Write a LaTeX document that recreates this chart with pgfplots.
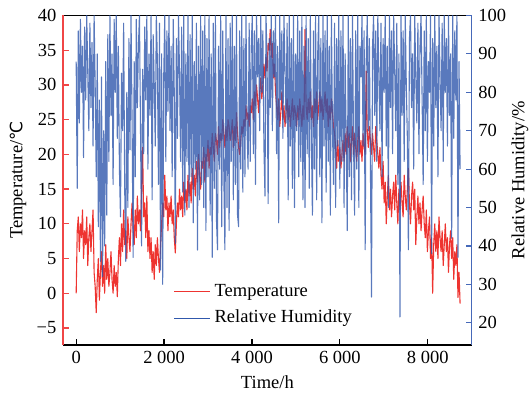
\documentclass[border=0pt]{standalone}
\usepackage{pgfplots}
\pgfplotsset{compat=1.18}
\usepackage{pgfplotstable}
\usepackage{fontspec}
\setmainfont{Liberation Serif}
\newfontfamily\dejavu{DejaVu Sans}
\definecolor{tred}{RGB}{238,52,48}
\definecolor{hblue}{RGB}{48,88,172}
\definecolor{spred}{RGB}{240,70,70}
\definecolor{spblue}{RGB}{70,105,185}

\pgfplotstableread[row sep=\\]{
T\\
0\\ 9\\ 11\\ 6\\ 10\\ 8\\ 12\\ 5\\ 9\\ 7\\
11\\ 4\\ 8\\ 10\\ 6\\ 9\\ 12\\ 3\\ 1\\ -2.8\\
2\\ 5\\ -1\\ 3\\ 6\\ 1\\ 4\\ 0\\ 7\\ 2\\
5\\ 1\\ 3\\ 6\\ 2\\ 0\\ 4\\ 1\\ 3\\ -0.5\\
5\\ 8\\ 4\\ 10\\ 6\\ 12\\ 7\\ 9\\ 5\\ 11\\
8\\ 6\\ 10\\ 13\\ 9\\ 7\\ 12\\ 8\\ 14\\ 10\\
12\\ 9\\ 15\\ 21\\ 11\\ 13\\ 8\\ 14\\ 6\\ 9\\
5\\ 8\\ 3\\ 6\\ 2\\ 7\\ 4\\ 8\\ 5\\ 3\\
7\\ 10\\ 13\\ 11\\ 17\\ 12\\ 14\\ 9\\ 13\\ 11\\
14\\ 10\\ 12\\ 8\\ 5.8\\ 10\\ 13\\ 11\\ 15\\ 12\\
14\\ 11\\ 16\\ 13\\ 15\\ 12\\ 17\\ 14\\ 16\\ 13\\
18\\ 15\\ 17\\ 14\\ 19\\ 16\\ 20\\ 17\\ 15\\ 19\\
18\\ 21\\ 16\\ 20\\ 19\\ 22\\ 18\\ 21\\ 20\\ 23\\
21\\ 19\\ 23\\ 22\\ 20\\ 24\\ 21\\ 23\\ 22\\ 25\\
23\\ 21\\ 24\\ 22\\ 25\\ 24\\ 22\\ 23\\ 25\\ 21\\
24\\ 22\\ 26\\ 23\\ 21\\ 20\\ 22\\ 24\\ 23\\ 25\\
24\\ 27\\ 25\\ 26\\ 24\\ 27\\ 26\\ 28\\ 25\\ 29\\
27\\ 30\\ 28\\ 26\\ 29\\ 31\\ 28\\ 30\\ 33\\ 31\\
34\\ 32\\ 36\\ 35\\ 38\\ 34\\ 36\\ 31\\ 33\\ 29\\
27\\ 25\\ 28\\ 24\\ 26\\ 29\\ 25\\ 27\\ 24\\ 26\\
28\\ 25\\ 27\\ 24\\ 26\\ 28\\ 25\\ 27\\ 26\\ 24\\
27\\ 25\\ 28\\ 26\\ 24\\ 27\\ 25\\ 38\\ 27\\ 25\\
28\\ 26\\ 29\\ 25\\ 27\\ 24\\ 28\\ 26\\ 29\\ 25\\
27\\ 29\\ 26\\ 28\\ 25\\ 27\\ 29\\ 26\\ 28\\ 24\\
27\\ 25\\ 28\\ 26\\ 24\\ 23\\ 21\\ 18\\ 22\\ 19\\
21\\ 18\\ 20\\ 22\\ 19\\ 23\\ 20\\ 24\\ 21\\ 23\\
19\\ 22\\ 24\\ 20\\ 23\\ 21\\ 19\\ 22\\ 24\\ 20\\
22\\ 19\\ 23\\ 21\\ 20\\ 32\\ 23\\ 21\\ 24\\ 22\\
20\\ 23\\ 21\\ 19\\ 24\\ 22\\ 20\\ 18\\ 21\\ 17\\
15\\ 19\\ 13\\ 16\\ 10\\ 14\\ 17\\ 12\\ 15\\ 11\\
14\\ 16\\ 12\\ 17\\ 13\\ 10\\ 15\\ 12\\ 16\\ 13\\
11\\ 17\\ 14\\ 12\\ 15\\ 18\\ 13\\ 10\\ 14\\ 16\\
12\\ 15\\ 7\\ 11\\ 14\\ 10\\ 13\\ 9\\ 12\\ 14\\
10\\ 8\\ 12\\ 6\\ 9\\ 11\\ 5\\ 8\\ 0\\ 7\\
10\\ 6\\ 9\\ 5\\ 11\\ 8\\ 6\\ 9\\ 4\\ 7\\
10\\ 6\\ 8\\ 3\\ 7\\ 9\\ 5\\ 8\\ 2\\ 6\\
4\\ 7\\ -0.6\\ 3\\ -1.5\\
}\temptable

\pgfplotstableread[row sep=\\]{
H\\
88\\ 55\\ 96\\ 72\\ 99\\ 80\\ 92\\ 63\\ 97\\ 78\\
100\\ 85\\ 70\\ 98\\ 76\\ 93\\ 66\\ 100\\ 82\\ 58\\
90\\ 45\\ 78\\ 36\\ 84\\ 32\\ 70\\ 40\\ 88\\ 48\\
95\\ 62\\ 100\\ 74\\ 90\\ 56\\ 99\\ 80\\ 100\\ 68\\
92\\ 60\\ 47.6\\ 85\\ 70\\ 98\\ 55\\ 36\\ 80\\ 50\\
94\\ 65\\ 100\\ 72\\ 37\\ 88\\ 58\\ 99\\ 76\\ 92\\
100\\ 70\\ 40\\ 86\\ 64\\ 97\\ 78\\ 100\\ 60\\ 90\\
74\\ 100\\ 52\\ 95\\ 82\\ 66\\ 100\\ 88\\ 56\\ 98\\
33.7\\ 90\\ 30\\ 84\\ 100\\ 62\\ 96\\ 75\\ 100\\ 70\\
92\\ 58\\ 99\\ 80\\ 40.6\\ 94\\ 68\\ 100\\ 85\\ 62\\
97\\ 54\\ 100\\ 48\\ 90\\ 62\\ 100\\ 50\\ 95\\ 58\\
100\\ 46\\ 88\\ 60\\ 98\\ 38.9\\ 92\\ 52\\ 100\\ 56\\
96\\ 50\\ 100\\ 44\\ 94\\ 58\\ 100\\ 48\\ 90\\ 37\\
98\\ 55\\ 100\\ 47\\ 39\\ 92\\ 60\\ 100\\ 45\\ 96\\
58\\ 39\\ 100\\ 50\\ 94\\ 44\\ 98\\ 62\\ 100\\ 52\\
92\\ 56\\ 100\\ 48\\ 45\\ 96\\ 60\\ 100\\ 54\\ 94\\
58\\ 100\\ 70\\ 60\\ 98\\ 62\\ 92\\ 100\\ 64\\ 96\\
56\\ 100\\ 84\\ 94\\ 70\\ 100\\ 80\\ 96\\ 66\\ 53\\
100\\ 88\\ 51\\ 94\\ 76\\ 100\\ 70\\ 96\\ 84\\ 100\\
64\\ 92\\ 46\\ 100\\ 78\\ 96\\ 68\\ 100\\ 86\\ 72\\
98\\ 52\\ 100\\ 66\\ 94\\ 55\\ 100\\ 50\\ 90\\ 70\\
100\\ 58\\ 96\\ 62\\ 100\\ 52\\ 92\\ 50\\ 100\\ 64\\
94\\ 55\\ 100\\ 68\\ 48\\ 96\\ 60\\ 100\\ 52\\ 90\\
100\\ 58\\ 94\\ 46\\ 100\\ 66\\ 96\\ 54\\ 100\\ 62\\
92\\ 48\\ 100\\ 70\\ 56\\ 98\\ 50\\ 94\\ 66\\ 100\\
55\\ 96\\ 62\\ 100\\ 50\\ 90\\ 68\\ 44\\ 100\\ 58\\
94\\ 52\\ 100\\ 66\\ 48\\ 96\\ 60\\ 100\\ 50\\ 92\\
84\\ 100\\ 66\\ 96\\ 39\\ 88\\ 100\\ 70\\ 94\\ 60\\
26.7\\ 92\\ 100\\ 74\\ 96\\ 62\\ 100\\ 84\\ 70\\ 98\\
58\\ 94\\ 80\\ 100\\ 66\\ 92\\ 50\\ 100\\ 76\\ 96\\
64\\ 100\\ 86\\ 70\\ 98\\ 56\\ 90\\ 21.5\\ 100\\ 74\\
96\\ 62\\ 100\\ 82\\ 68\\ 39\\ 94\\ 100\\ 76\\ 90\\
60\\ 100\\ 84\\ 72\\ 98\\ 64\\ 92\\ 100\\ 78\\ 56\\
96\\ 70\\ 100\\ 62\\ 88\\ 80\\ 100\\ 38\\ 94\\ 66\\
100\\ 76\\ 92\\ 58\\ 100\\ 84\\ 70\\ 98\\ 62\\ 100\\
80\\ 94\\ 66\\ 100\\ 74\\ 90\\ 42\\ 100\\ 68\\ 96\\
78\\ 100\\ 37\\ 88\\ 60\\
}\humtable

\begin{document}
\fontsize{9.25}{11}\selectfont
\begin{tikzpicture}
\useasboundingbox (-31.5pt,-25pt) rectangle (234.5pt,172.5pt);
\pgfplotsset{
  common/.style={
    at={(0pt,0pt)}, anchor=south west,
    scale only axis, width=204.35pt, height=164.75pt,
    xmin=-300, xmax=9000,
    tick align=inside,
    major tick length=3pt,
    tick label style={font=\fontsize{9.25}{11}\selectfont},
    label style={font=\fontsize{9.25}{11}\selectfont},
    clip=true,
  }
}
\begin{axis}[common,
  ymin=-7.45, ymax=40,
  axis y line*=left,
  xtick={0,2000,4000,6000,8000},
  xticklabels={0,2 000,4 000,6 000,8 000},
  xtick pos=left,
  ytick={-5,0,5,10,15,20,25,30,35,40},
  yticklabels={−5,0,5,10,15,20,25,30,35,40},
  y axis line style={draw=spred, line width=0.6pt},
  ytick style={draw=spred, line width=0.6pt},
  x axis line style={draw=black, line width=0.6pt},
  xtick style={draw=black, line width=0.6pt},
  xlabel={Time/h},
  xlabel style={at={(axis description cs:0.5,-0.112)}, anchor=center},
  ylabel={Temperature/{\dejavu\fontsize{8.5}{10}\selectfont ℃}},
  ylabel style={at={(axis description cs:-0.11,0.5)}, anchor=center},
]
\addplot[tred, line width=0.55pt, line join=round] table[x expr=\coordindex*24, y=T]{\temptable};
\end{axis}
\begin{axis}[common,
  ymin=14.2, ymax=100,
  axis y line*=right,
  axis x line=none,
  ytick={20,30,40,50,60,70,80,90,100},
  yticklabels={20,30,40,50,60,70,80,90,100},
  y axis line style={draw=spblue, line width=0.6pt},
  ytick style={draw=spblue, line width=0.6pt},
  ylabel={Relative Humidity/\%},
  ylabel style={at={(axis description cs:1.118,0.5)}, anchor=center},
  legend style={at={(0.27,0.045)}, anchor=south west, draw=none, fill=none,
    font=\fontsize{9.25}{11}\selectfont, row sep=1.5pt, inner sep=0pt},
  legend cell align=left,
  legend image code/.code={\draw[#1] (0pt,0pt) -- (18pt,0pt);},
]
\addlegendimage{tred, line width=0.45pt}
\addlegendentry{Temperature}
\addlegendimage{hblue, line width=0.45pt}
\addlegendentry{Relative Humidity}
\addplot[hblue, line width=0.55pt, draw opacity=0.8, line join=round, forget plot] table[x expr=\coordindex*24, y=H]{\humtable};
\end{axis}
\end{tikzpicture}
\end{document}
